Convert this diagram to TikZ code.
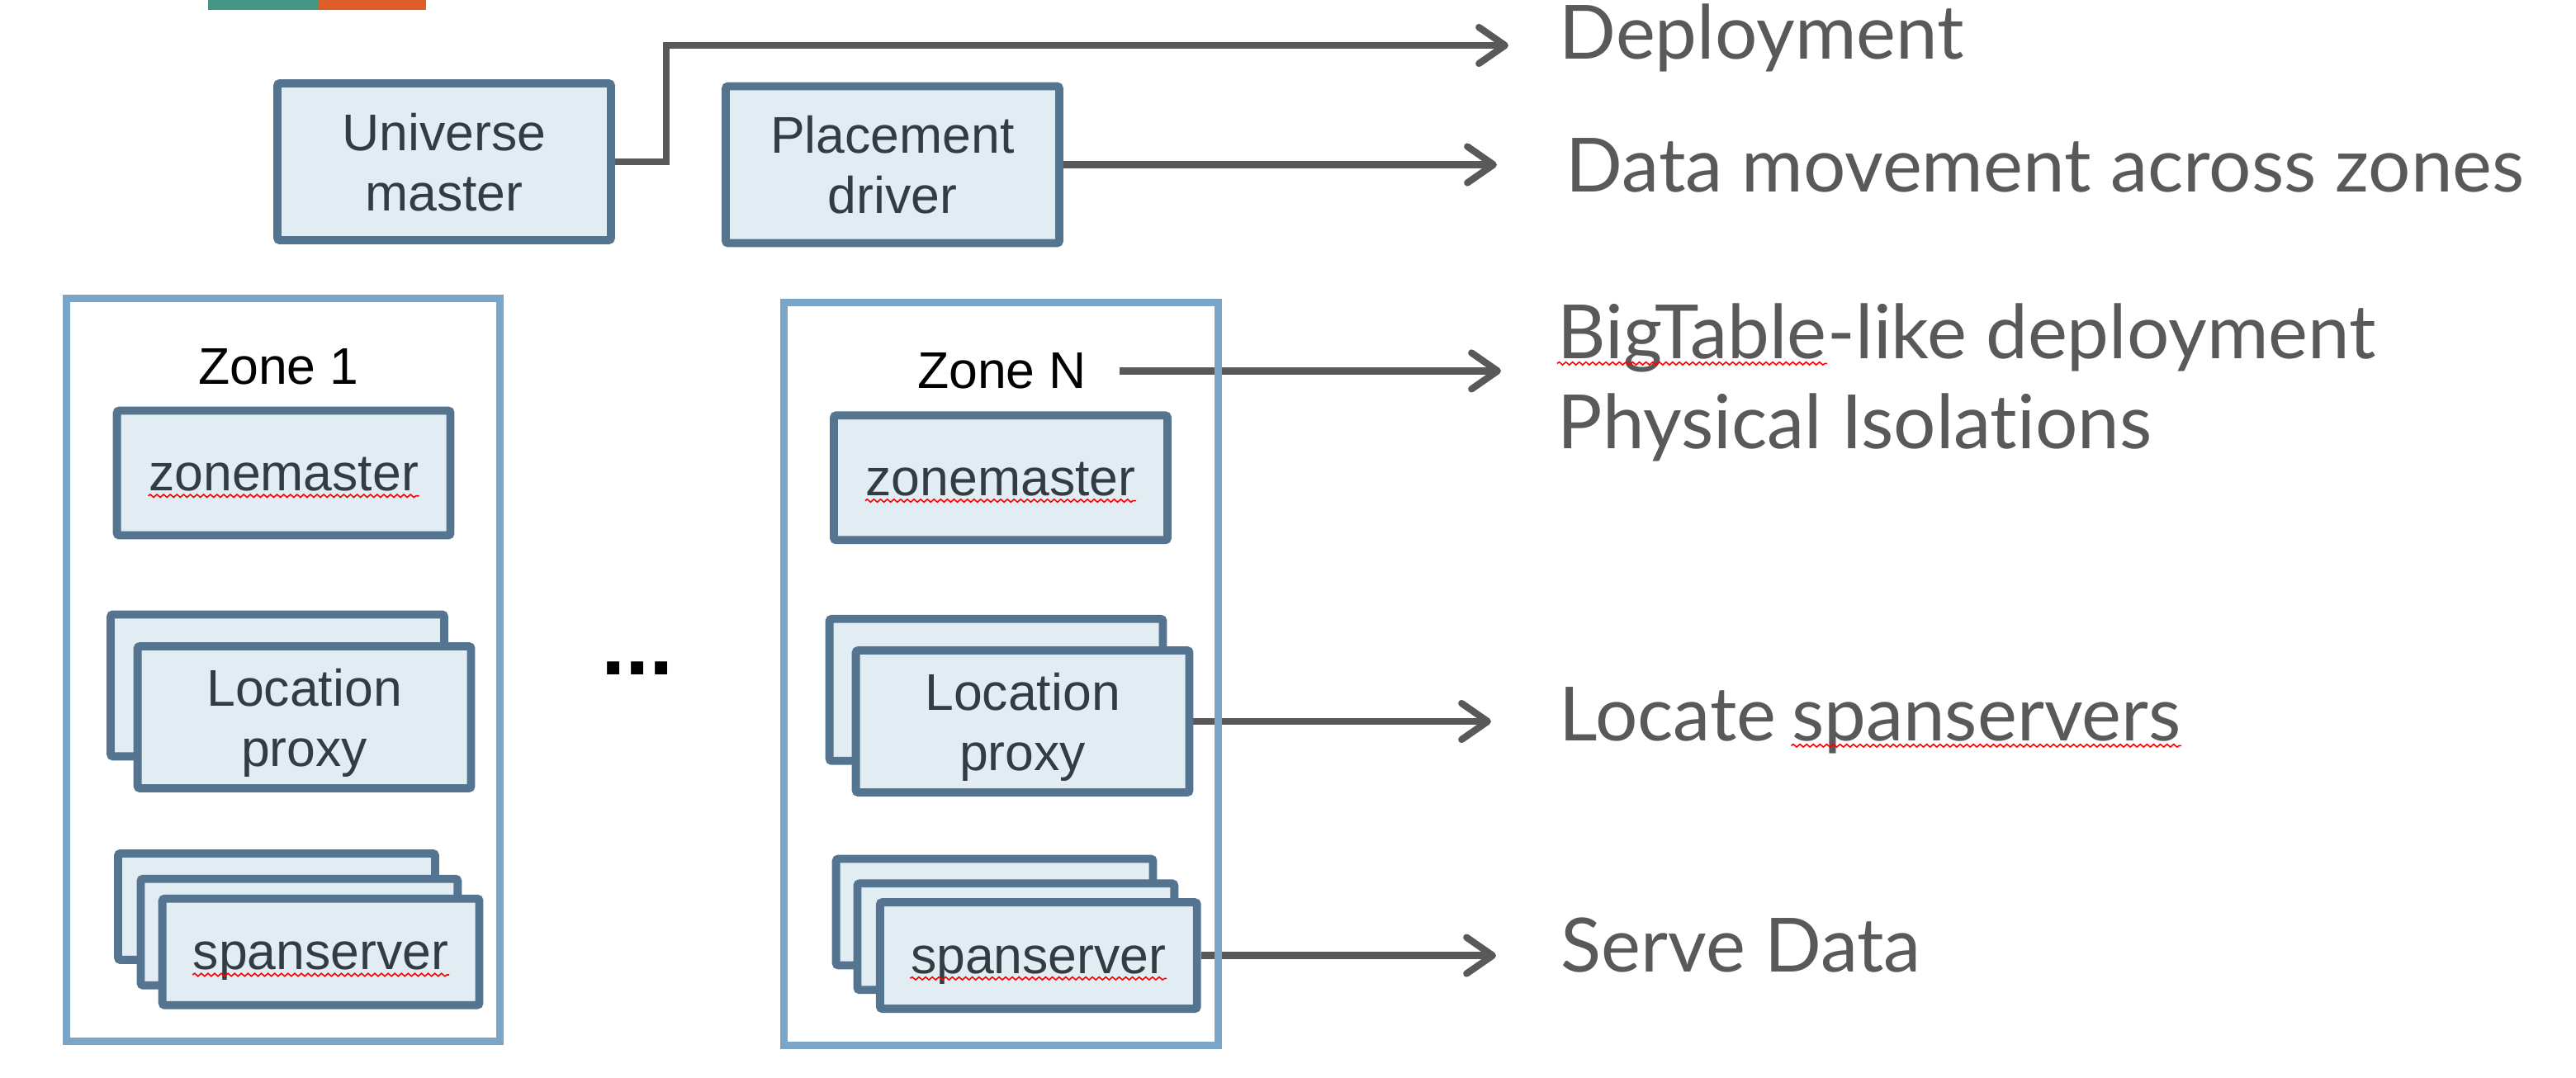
\documentclass[tikz,border=0pt]{standalone}
\usepackage{fontspec}
\setmainfont{Liberation Sans}
\newfontfamily\latofont[Ligatures=NoCommon]{Lato}
\usetikzlibrary{arrows.meta,positioning,backgrounds,decorations.pathmorphing}

\definecolor{boxline}{RGB}{84,116,143}
\definecolor{boxfill}{RGB}{226,236,243}
\definecolor{boxtext}{RGB}{50,60,66}
\definecolor{zoneline}{RGB}{122,165,199}
\definecolor{arrowgray}{RGB}{89,89,89}
\definecolor{barteal}{RGB}{69,150,133}
\definecolor{barorange}{RGB}{222,94,40}

\tikzset{
  box/.style={draw=boxline,fill=boxfill,line width=2.8pt,rounded corners=0.8pt,inner sep=0pt,
    minimum width=4.04cm,text=boxtext,font=\fontsize{17.8}{20.8}\selectfont,align=center,text depth=0pt},
  bigbox/.style={box,minimum height=1.9cm},
  zmbox/.style={box,minimum height=1.51cm},
  lpbox/.style={box,minimum height=1.72cm},
  ssbox/.style={box,minimum width=3.84cm,minimum height=1.29cm},
  word/.style={inner sep=0pt,text=boxtext,font=\fontsize{17.8}{20.8}\selectfont,text height=16pt,text depth=3.8pt},
  zone/.style={draw=zoneline,line width=2.55pt,inner sep=0pt,minimum width=5.26cm,minimum height=9cm},
  zonetitle/.style={inner sep=0pt,anchor=base,font=\fontsize{17.8}{20.8}\selectfont},
  note/.style={inner sep=0pt,anchor=base west,text=arrowgray,font=\latofont\fontsize{25.8}{31}\selectfont},
  arr/.style={draw=arrowgray,line width=2.35pt,-{Straight Barb[length=9pt,width=12.5pt,round]}},
  spell/.style={draw=red,line width=0.45pt,decorate,decoration={snake,amplitude=0.5pt,segment length=2.3pt}}
}

\begin{document}
\begin{tikzpicture}[x=0.02cm,y=-0.02cm]
  \useasboundingbox (0,0) rectangle (1560,653);

  % colour bar at the top
  \fill[barteal] (126,0) rectangle (193,6);
  \fill[barorange] (193,0) rectangle (258,6);

  % universe level
  \node[bigbox] (um) at (269,98) {Universe\\master};
  \node[bigbox] (pd) at (540.5,99.75) {Placement\\driver};

  % zone 1
  \node[zonetitle] (z1t) at (168.7,232.6) {Zone 1};
  \node[zmbox] (zm1) at (171.8,286.5) {};
  \node[word] (zm1w) at (zm1) {zonemaster};
  \node[lpbox] (lp1b) at (168,415.2) {};
  \node[lpbox] (lp1) at (184.3,434.5) {Location\\proxy};
  \node[ssbox] (ss1a) at (167.5,549.2) {};
  \node[ssbox] (ss1b) at (181.2,564.6) {};
  \node[ssbox] (ss1) at (194.3,576.6) {};
  \node[word] (ss1w) at (ss1) {spanserver};

  \node[inner sep=0pt,font=\fontsize{30}{30}\selectfont\bfseries] (dots) at (386,404.7) {...};

  % zone N
  \node[zonetitle] (zNt) at (606.8,235.3) {Zone N};
  \node[zmbox] (zmN) at (606,289.4) {};
  \node[word] (zmNw) at (zmN) {zonemaster};
  \node[lpbox] (lpNb) at (603.3,417.9) {};
  \node[lpbox] (lpN) at (619.3,437) {Location\\proxy};
  \node[ssbox] (ssNa) at (602.3,552.5) {};
  \node[ssbox] (ssNb) at (615.2,567.4) {};
  \node[ssbox] (ssN) at (628.9,578.8) {};
  \node[word] (ssNw) at (ssN) {spanserver};

  % notes on the right
  \node[note] (dep) at (944,35.7) {Deployment};
  \node[note] (dm) at (948,116) {Data movement across zones};
  \node[note] (bt) at (943,217) {BigTable};
  \node[note] (btr) at (bt.base east) {-like deployment};
  \node[note] (phy) at (943,271.5) {Physical Isolations};
  \node[note] (loc) at (944,448.5) {Locate};
  \node[note] (locs) at ([xshift=5pt]loc.base east) {spanservers};
  \node[note] (sd) at (945,588.5) {Serve Data};

  \coordinate (tdep) at (913.5,27.5);
  \coordinate (tdm) at (906.5,101);
  \coordinate (tbt) at (909,223.5);
  \coordinate (tloc) at (903,438);
  \coordinate (tsd) at (906,578);

  \begin{scope}[on background layer]
    \draw[arr] (um.east) -- ++(31,0) |- (tdep);
    \draw[arr] (pd.east) -- (pd.east -| tdm);
    \draw[arr] ([xshift=11pt]zNt.east) -- (zNt.east -| tbt);
    \draw[arr] (lpN.east) -- (lpN.east -| tloc);
    \draw[arr] (ssN.east) -- (ssN.east -| tsd);
  \end{scope}

  % spell-check marks
  \foreach \w in {zm1w,ss1w,zmNw,ssNw,bt,locs}
    \draw[spell] ([yshift=-1.8pt]\w.base west) -- ([yshift=-1.8pt]\w.base east);

  % zone frames
  \node[zone] (zone1) at (171.5,405.7) {};
  \node[zone] (zoneN) at (606.4,408.2) {};
\end{tikzpicture}
\end{document}
